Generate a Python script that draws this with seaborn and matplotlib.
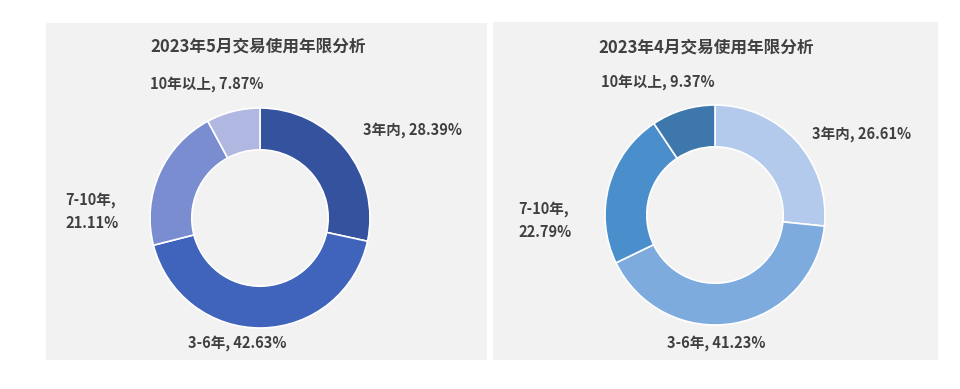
import matplotlib
matplotlib.use("Agg")
import matplotlib.pyplot as plt
import seaborn as sns

# 数据
categories = ['3年内', '3-6年', '7-10年', '10年以上']
may_values = [28.39, 42.63, 21.11, 7.87]
apr_values = [26.61, 41.23, 22.79, 9.37]
titles = ['2023年5月交易使用年限分析', '2023年4月交易使用年限分析']

may_colors = ['#34529e', '#4064bb', '#7a8dd0', '#b0b8e2']
apr_colors = ['#b4caec', '#7dabde', '#4a8fcb', '#3d77ab']

sns.set_theme(style='white')
plt.rcParams['font.family'] = ['Noto Sans CJK SC', 'DejaVu Sans']

W, H = 960, 389
fig = plt.figure(figsize=(W / 100, H / 100), dpi=100)
fig.patch.set_facecolor('white')

text_color = '#404040'

# 面板: (左, 上, 右, 下) 像素; 圆心; 标签位置(单位半径)
panels = [
    dict(box=(46, 23, 487, 360), center=(260, 218), title_y=46,
         values=may_values, colors=may_colors,
         labels=[(0.94, 0.80, 'left', False), (-0.21, -1.14, 'center', False),
                 (-1.77, 0.06, 'left', True), (-1.00, 1.22, 'left', False)]),
    dict(box=(493, 22, 938, 360), center=(715, 215), title_y=47,
         values=apr_values, colors=apr_colors,
         labels=[(0.88, 0.74, 'left', False), (0.01, -1.16, 'center', False),
                 (-1.79, -0.05, 'left', True), (-1.04, 1.21, 'left', False)]),
]

R = 110  # 外半径像素

for p, title in zip(panels, titles):
    l, t, r, b = p['box']
    bg = fig.add_axes([l / W, 1 - b / H, (r - l) / W, (b - t) / H])
    bg.set_facecolor('#f2f2f2')
    bg.set_xticks([])
    bg.set_yticks([])
    for s in bg.spines.values():
        s.set_visible(False)
    bg.text(((l + r) / 2 - l) / (r - l) - 0.02, 1 - (p['title_y'] - t) / (b - t), title,
            transform=bg.transAxes, ha='center', va='center',
            fontsize=12, fontweight='bold', color=text_color)

    cx, cy = p['center']
    size = 2 * R
    ax = fig.add_axes([(cx - R) / W, 1 - (cy + R) / H, size / W, size / H])
    ax.set_facecolor('none')
    ax.pie(p['values'], colors=p['colors'], startangle=90, counterclock=False,
           radius=1, wedgeprops=dict(width=0.38, edgecolor='white', linewidth=1.2))
    ax.set_xlim(-1, 1)
    ax.set_ylim(-1, 1)
    ax.set_aspect('equal')
    ax.axis('off')

    for cat, val, (dx, dy, ha, wrap) in zip(categories, p['values'], p['labels']):
        sep = ',\n' if wrap else ', '
        ax.text(dx, dy, f'{cat}{sep}{val:.2f}%', ha=ha, va='center',
                fontsize=10.5, fontweight='bold', color=text_color,
                linespacing=1.6, clip_on=False)

fig.savefig('out.png', dpi=100, facecolor='white')
